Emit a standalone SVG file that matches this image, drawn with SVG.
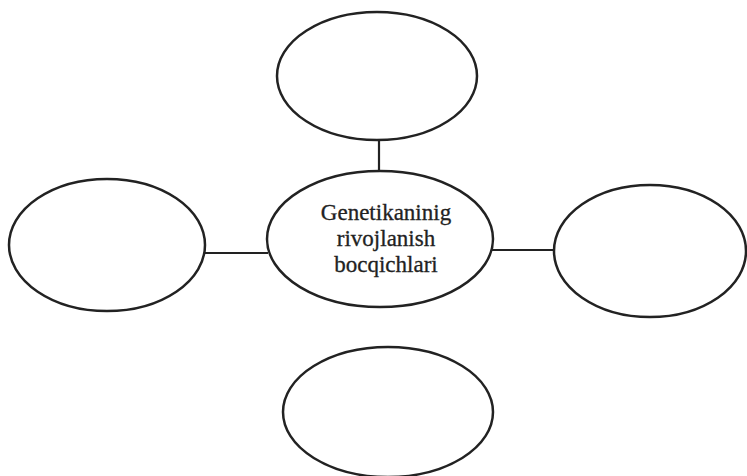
<svg xmlns="http://www.w3.org/2000/svg" width="747" height="476" viewBox="0 0 747 476">
<style>
.node{fill:#fff;stroke:#222;stroke-width:2.5}
.conn{stroke:#222;stroke-width:2.2;fill:none}
.lbl{font-family:"Liberation Serif","Times New Roman",serif;font-size:23px;fill:#222;stroke:#222;stroke-width:0.3;text-anchor:middle}
</style>
<rect width="747" height="476" fill="#fff"/>
<g id="connectors">
<line class="conn" x1="379" y1="141" x2="379" y2="172"/>
<line class="conn" x1="204" y1="253" x2="268" y2="253"/>
<line class="conn" x1="492" y1="250" x2="555" y2="250"/>
</g>
<g id="node-top"><ellipse class="node" cx="377" cy="76" rx="100" ry="64"/></g>
<g id="node-center">
<ellipse class="node" cx="380" cy="239" rx="113" ry="68"/>
<text class="lbl" x="386" y="220">Genetikaninig</text>
<text class="lbl" x="386" y="246">rivojlanish</text>
<text class="lbl" x="386" y="272">bocqichlari</text>
</g>
<g id="node-left"><ellipse class="node" cx="107" cy="245" rx="98" ry="66"/></g>
<g id="node-right"><ellipse class="node" cx="650" cy="251" rx="96" ry="66"/></g>
<g id="node-bottom"><ellipse class="node" cx="388" cy="412" rx="105" ry="65"/></g>
</svg>
